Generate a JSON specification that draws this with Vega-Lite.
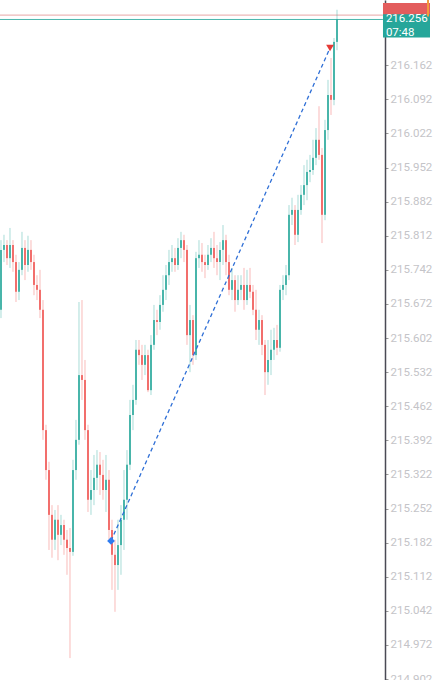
{
  "$schema": "https://vega.github.io/schema/vega-lite/v6.json",
  "width": 437,
  "height": 680,
  "padding": 0,
  "autosize": "none",
  "background": "white",
  "view": {"stroke": null},
  "config": {
    "font": "Roboto",
    "axisY": {"labelOverlap": false, "labelFlush": false, "labelBound": false, "grid": false, "title": null, "tickCount": 40}
  },
  "datasets": {
    "candles": [
      {"i":0,"o":215.660,"h":215.803,"l":215.643,"c":215.783},
      {"i":1,"o":215.783,"h":215.814,"l":215.758,"c":215.793},
      {"i":2,"o":215.793,"h":215.803,"l":215.752,"c":215.766},
      {"i":3,"o":215.766,"h":215.828,"l":215.746,"c":215.793},
      {"i":4,"o":215.793,"h":215.803,"l":215.738,"c":215.758},
      {"i":5,"o":215.758,"h":215.773,"l":215.676,"c":215.697},
      {"i":6,"o":215.697,"h":215.758,"l":215.680,"c":215.742},
      {"i":7,"o":215.742,"h":215.820,"l":215.731,"c":215.787},
      {"i":8,"o":215.787,"h":215.803,"l":215.721,"c":215.752},
      {"i":9,"o":215.752,"h":215.812,"l":215.738,"c":215.783},
      {"i":10,"o":215.783,"h":215.803,"l":215.742,"c":215.758},
      {"i":11,"o":215.758,"h":215.773,"l":215.690,"c":215.711},
      {"i":12,"o":215.711,"h":215.731,"l":215.680,"c":215.701},
      {"i":13,"o":215.701,"h":215.742,"l":215.643,"c":215.660},
      {"i":14,"o":215.660,"h":215.680,"l":215.393,"c":215.413},
      {"i":15,"o":215.413,"h":215.424,"l":215.311,"c":215.331},
      {"i":16,"o":215.331,"h":215.348,"l":215.167,"c":215.239},
      {"i":17,"o":215.239,"h":215.259,"l":215.151,"c":215.188},
      {"i":18,"o":215.188,"h":215.249,"l":215.167,"c":215.229},
      {"i":19,"o":215.229,"h":215.259,"l":215.146,"c":215.198},
      {"i":20,"o":215.198,"h":215.239,"l":215.177,"c":215.218},
      {"i":21,"o":215.218,"h":215.229,"l":215.157,"c":215.188},
      {"i":22,"o":215.188,"h":215.208,"l":215.116,"c":215.171},
      {"i":23,"o":215.171,"h":215.212,"l":214.945,"c":215.163},
      {"i":24,"o":215.163,"h":215.352,"l":215.155,"c":215.331},
      {"i":25,"o":215.331,"h":215.434,"l":215.311,"c":215.393},
      {"i":26,"o":215.393,"h":215.676,"l":215.383,"c":215.526},
      {"i":27,"o":215.526,"h":215.680,"l":215.475,"c":215.516},
      {"i":28,"o":215.516,"h":215.557,"l":215.393,"c":215.413},
      {"i":29,"o":215.413,"h":215.424,"l":215.245,"c":215.270},
      {"i":30,"o":215.270,"h":215.331,"l":215.239,"c":215.290},
      {"i":31,"o":215.290,"h":215.362,"l":215.259,"c":215.315},
      {"i":32,"o":215.315,"h":215.372,"l":215.290,"c":215.342},
      {"i":33,"o":215.342,"h":215.368,"l":215.280,"c":215.321},
      {"i":34,"o":215.321,"h":215.352,"l":215.270,"c":215.290},
      {"i":35,"o":215.290,"h":215.362,"l":215.245,"c":215.311},
      {"i":36,"o":215.311,"h":215.331,"l":215.188,"c":215.208},
      {"i":37,"o":215.208,"h":215.229,"l":215.085,"c":215.157},
      {"i":38,"o":215.157,"h":215.188,"l":215.040,"c":215.136},
      {"i":39,"o":215.136,"h":215.229,"l":215.085,"c":215.177},
      {"i":40,"o":215.177,"h":215.259,"l":215.116,"c":215.229},
      {"i":41,"o":215.229,"h":215.331,"l":215.167,"c":215.270},
      {"i":42,"o":215.270,"h":215.372,"l":215.229,"c":215.342},
      {"i":43,"o":215.342,"h":215.475,"l":215.331,"c":215.444},
      {"i":44,"o":215.444,"h":215.506,"l":215.413,"c":215.475},
      {"i":45,"o":215.475,"h":215.598,"l":215.465,"c":215.578},
      {"i":46,"o":215.578,"h":215.598,"l":215.547,"c":215.567},
      {"i":47,"o":215.567,"h":215.588,"l":215.516,"c":215.547},
      {"i":48,"o":215.547,"h":215.588,"l":215.526,"c":215.567},
      {"i":49,"o":215.567,"h":215.578,"l":215.491,"c":215.495},
      {"i":50,"o":215.495,"h":215.608,"l":215.485,"c":215.588},
      {"i":51,"o":215.588,"h":215.670,"l":215.578,"c":215.639},
      {"i":52,"o":215.639,"h":215.660,"l":215.608,"c":215.635},
      {"i":53,"o":215.635,"h":215.690,"l":215.619,"c":215.670},
      {"i":54,"o":215.670,"h":215.731,"l":215.656,"c":215.701},
      {"i":55,"o":215.701,"h":215.752,"l":215.680,"c":215.731},
      {"i":56,"o":215.731,"h":215.783,"l":215.711,"c":215.758},
      {"i":57,"o":215.758,"h":215.793,"l":215.738,"c":215.766},
      {"i":58,"o":215.766,"h":215.787,"l":215.738,"c":215.752},
      {"i":59,"o":215.752,"h":215.807,"l":215.742,"c":215.787},
      {"i":60,"o":215.787,"h":215.820,"l":215.766,"c":215.803},
      {"i":61,"o":215.803,"h":215.814,"l":215.758,"c":215.783},
      {"i":62,"o":215.783,"h":215.793,"l":215.588,"c":215.608},
      {"i":63,"o":215.608,"h":215.670,"l":215.532,"c":215.639},
      {"i":64,"o":215.639,"h":215.649,"l":215.547,"c":215.567},
      {"i":65,"o":215.567,"h":215.779,"l":215.557,"c":215.766},
      {"i":66,"o":215.766,"h":215.803,"l":215.746,"c":215.773},
      {"i":67,"o":215.773,"h":215.797,"l":215.738,"c":215.758},
      {"i":68,"o":215.758,"h":215.773,"l":215.725,"c":215.752},
      {"i":69,"o":215.752,"h":215.793,"l":215.742,"c":215.773},
      {"i":70,"o":215.773,"h":215.807,"l":215.758,"c":215.787},
      {"i":71,"o":215.787,"h":215.820,"l":215.746,"c":215.766},
      {"i":72,"o":215.766,"h":215.793,"l":215.731,"c":215.758},
      {"i":73,"o":215.758,"h":215.799,"l":215.721,"c":215.783},
      {"i":74,"o":215.783,"h":215.834,"l":215.752,"c":215.803},
      {"i":75,"o":215.803,"h":215.814,"l":215.731,"c":215.758},
      {"i":76,"o":215.758,"h":215.773,"l":215.690,"c":215.701},
      {"i":77,"o":215.701,"h":215.746,"l":215.680,"c":215.721},
      {"i":78,"o":215.721,"h":215.731,"l":215.656,"c":215.680},
      {"i":79,"o":215.680,"h":215.731,"l":215.670,"c":215.701},
      {"i":80,"o":215.701,"h":215.731,"l":215.680,"c":215.711},
      {"i":81,"o":215.711,"h":215.746,"l":215.660,"c":215.680},
      {"i":82,"o":215.680,"h":215.742,"l":215.670,"c":215.711},
      {"i":83,"o":215.711,"h":215.746,"l":215.684,"c":215.697},
      {"i":84,"o":215.697,"h":215.711,"l":215.649,"c":215.660},
      {"i":85,"o":215.660,"h":215.701,"l":215.598,"c":215.619},
      {"i":86,"o":215.619,"h":215.660,"l":215.588,"c":215.639},
      {"i":87,"o":215.639,"h":215.649,"l":215.567,"c":215.588},
      {"i":88,"o":215.588,"h":215.598,"l":215.485,"c":215.532},
      {"i":89,"o":215.532,"h":215.598,"l":215.506,"c":215.557},
      {"i":90,"o":215.557,"h":215.619,"l":215.526,"c":215.578},
      {"i":91,"o":215.578,"h":215.623,"l":215.557,"c":215.598},
      {"i":92,"o":215.598,"h":215.629,"l":215.567,"c":215.582},
      {"i":93,"o":215.582,"h":215.711,"l":215.574,"c":215.701},
      {"i":94,"o":215.701,"h":215.731,"l":215.680,"c":215.711},
      {"i":95,"o":215.711,"h":215.752,"l":215.690,"c":215.731},
      {"i":96,"o":215.731,"h":215.875,"l":215.721,"c":215.855},
      {"i":97,"o":215.855,"h":215.890,"l":215.834,"c":215.865},
      {"i":98,"o":215.865,"h":215.875,"l":215.793,"c":215.814},
      {"i":99,"o":215.814,"h":215.896,"l":215.799,"c":215.865},
      {"i":100,"o":215.865,"h":215.916,"l":215.855,"c":215.896},
      {"i":101,"o":215.896,"h":215.957,"l":215.875,"c":215.916},
      {"i":102,"o":215.916,"h":215.968,"l":215.885,"c":215.943},
      {"i":103,"o":215.943,"h":215.978,"l":215.922,"c":215.947},
      {"i":104,"o":215.947,"h":216.009,"l":215.937,"c":215.972},
      {"i":105,"o":215.972,"h":216.033,"l":215.957,"c":216.009},
      {"i":106,"o":216.009,"h":216.078,"l":215.968,"c":215.978},
      {"i":107,"o":215.978,"h":215.992,"l":215.797,"c":215.855},
      {"i":108,"o":215.855,"h":216.050,"l":215.844,"c":216.029},
      {"i":109,"o":216.029,"h":216.132,"l":216.009,"c":216.101},
      {"i":110,"o":216.101,"h":216.177,"l":216.060,"c":216.091},
      {"i":111,"o":216.091,"h":216.218,"l":216.080,"c":216.210},
      {"i":112,"o":216.210,"h":216.276,"l":216.193,"c":216.256}
    ]
  },
  "layer": [
    {
      "data": {"values": [
        {"x0": -0.333, "x1": 127.3, "p": 216.265, "k": "ask"},
        {"x0": -0.333, "x1": 127.3, "p": 216.256, "k": "bid"}
      ]},
      "mark": {"type": "rule", "strokeWidth": 1},
      "encoding": {
        "x": {"field": "x0", "type": "quantitative", "scale": {"domain": [-0.333, 145.333], "nice": false, "zero": false, "padding": 0}, "axis": null},
        "x2": {"field": "x1"},
        "y": {"field": "p", "type": "quantitative", "scale": {"domain": [214.9, 216.296], "nice": false, "zero": false},
          "axis": {
            "orient": "right", "offset": -52, "title": null, "grid": false, "tickCount": 40,
            "values": [214.902, 214.972, 215.042, 215.112, 215.182, 215.252, 215.322, 215.392, 215.462, 215.532, 215.602, 215.672, 215.742, 215.812, 215.882, 215.952, 216.022, 216.092, 216.162],
            "format": ".3f", "domainColor": "#4a4a55", "domainWidth": 1.5,
            "tickColor": "#9a9a9a", "tickSize": 3, "labelColor": "#c4c4c8", "labelFontSize": 11.5,
            "labelPadding": 2, "labelFont": "Roboto", "labelOverlap": false, "labelBound": false, "labelFlush": false
          }
        },
        "color": {"condition": {"test": "datum.k == 'ask'", "value": "#e7a7a7"}, "value": "#4db6ac"}
      }
    },
    {
      "data": {"name": "candles"},
      "mark": {"type": "rule", "strokeWidth": 1, "opacity": 0.4},
      "encoding": {
        "x": {"field": "i", "type": "quantitative", "scale": {"domain": [-0.333, 145.333], "nice": false, "zero": false, "padding": 0}, "axis": null},
        "y": {"field": "l", "type": "quantitative", "scale": {"domain": [214.9, 216.296], "nice": false, "zero": false}},
        "y2": {"field": "h"},
        "color": {"condition": {"test": "datum.c >= datum.o", "value": "#26a69a"}, "value": "#ef5350"}
      }
    },
    {
      "data": {"name": "candles"},
      "mark": {"type": "bar", "size": 2, "opacity": 0.8},
      "encoding": {
        "x": {"field": "i", "type": "quantitative", "scale": {"domain": [-0.333, 145.333], "nice": false, "zero": false, "padding": 0}, "axis": null},
        "y": {"field": "o", "type": "quantitative", "scale": {"domain": [214.9, 216.296], "nice": false, "zero": false}},
        "y2": {"field": "c"},
        "color": {"condition": {"test": "datum.c >= datum.o", "value": "#26a69a"}, "value": "#ef5350"}
      }
    },
    {
      "data": {"values": [
        {"t": 36.67, "p": 215.1855},
        {"t": 109.67, "p": 216.1975}
      ]},
      "mark": {"type": "line", "strokeDash": [4, 3], "strokeWidth": 1.3, "color": "#2f6fd6"},
      "encoding": {
        "x": {"field": "t", "type": "quantitative", "scale": {"domain": [-0.333, 145.333], "nice": false, "zero": false, "padding": 0}, "axis": null},
        "y": {"field": "p", "type": "quantitative", "scale": {"domain": [214.9, 216.296], "nice": false, "zero": false}}
      }
    },
    {
      "data": {"values": [
        {"t": 36.67, "p": 215.1855, "s": "buy"},
        {"t": 109.67, "p": 216.1975, "s": "sell"}
      ]},
      "mark": {"type": "point", "filled": true, "opacity": 1, "size": 60},
      "encoding": {
        "x": {"field": "t", "type": "quantitative", "scale": {"domain": [-0.333, 145.333], "nice": false, "zero": false, "padding": 0}, "axis": null},
        "y": {"field": "p", "type": "quantitative", "scale": {"domain": [214.9, 216.296], "nice": false, "zero": false}},
        "shape": {"field": "s", "type": "nominal", "scale": {"domain": ["buy", "sell"], "range": ["diamond", "triangle-down"]}, "legend": null},
        "color": {"condition": {"test": "datum.s == 'buy'", "value": "#2f7cf0"}, "value": "#e53935"}
      }
    },
    {
      "data": {"values": [
        {"x0": 127.33, "x1": 143.0, "p0": 216.290, "p1": 216.262, "k": "ask"},
        {"x0": 127.33, "x1": 143.0, "p0": 216.267, "p1": 216.219, "k": "bid"}
      ]},
      "mark": {"type": "rect"},
      "encoding": {
        "x": {"field": "x0", "type": "quantitative", "scale": {"domain": [-0.333, 145.333], "nice": false, "zero": false, "padding": 0}, "axis": null},
        "x2": {"field": "x1"},
        "y": {"field": "p0", "type": "quantitative", "scale": {"domain": [214.9, 216.296], "nice": false, "zero": false}},
        "y2": {"field": "p1"},
        "color": {"condition": {"test": "datum.k == 'ask'", "value": "#e35d5d"}, "value": "#26a69a"}
      }
    },
    {
      "data": {"values": [
        {"x": 142.33, "p0": 216.296, "p1": 216.262}
      ]},
      "mark": {"type": "rule", "color": "#f39a3c", "strokeWidth": 2},
      "encoding": {
        "x": {"field": "x", "type": "quantitative", "scale": {"domain": [-0.333, 145.333], "nice": false, "zero": false, "padding": 0}, "axis": null},
        "y": {"field": "p0", "type": "quantitative", "scale": {"domain": [214.9, 216.296], "nice": false, "zero": false}},
        "y2": {"field": "p1"}
      }
    },
    {
      "data": {"values": [
        {"x": 128.3, "p": 216.257, "txt": "216.256"},
        {"x": 128.3, "p": 216.229, "txt": "07:48"}
      ]},
      "mark": {"type": "text", "align": "left", "baseline": "middle", "color": "white", "fontSize": 11.5, "font": "Roboto"},
      "encoding": {
        "x": {"field": "x", "type": "quantitative", "scale": {"domain": [-0.333, 145.333], "nice": false, "zero": false, "padding": 0}, "axis": null},
        "y": {"field": "p", "type": "quantitative", "scale": {"domain": [214.9, 216.296], "nice": false, "zero": false}},
        "text": {"field": "txt", "type": "nominal"}
      }
    }
  ]
}
